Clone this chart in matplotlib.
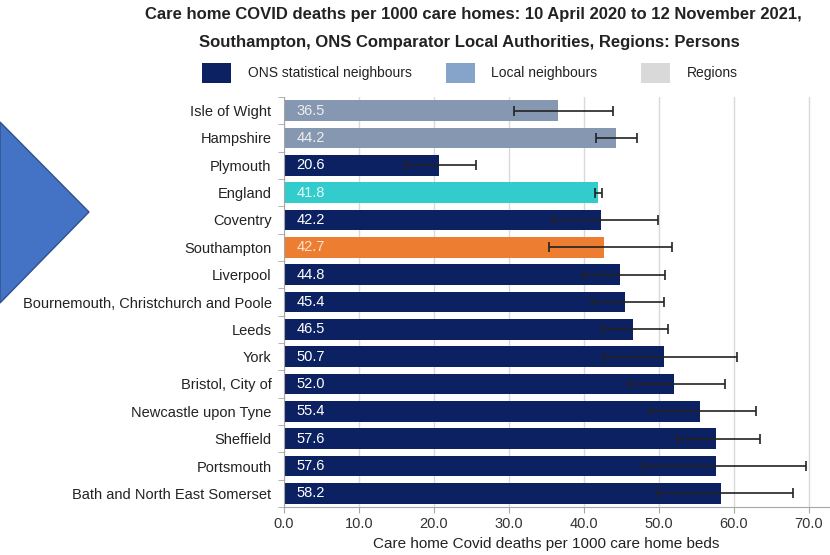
import matplotlib
matplotlib.use('Agg')
import matplotlib.pyplot as plt
from matplotlib.patches import Polygon, Rectangle

# Data (top to bottom)
areas = ['Isle of Wight', 'Hampshire', 'Plymouth', 'England', 'Coventry',
         'Southampton', 'Liverpool', 'Bournemouth, Christchurch and Poole',
         'Leeds', 'York', 'Bristol, City of', 'Newcastle upon Tyne',
         'Sheffield', 'Portsmouth', 'Bath and North East Somerset']
rates = [36.5, 44.2, 20.6, 41.8, 42.2, 42.7, 44.8, 45.4,
         46.5, 50.7, 52.0, 55.4, 57.6, 57.6, 58.2]
lower_ci = [30.6, 41.6, 16.3, 41.5, 35.9, 35.3, 39.8, 41.0,
            42.4, 42.7, 46.0, 48.8, 52.4, 47.8, 49.9]
upper_ci = [43.8, 47.0, 25.6, 42.4, 49.8, 51.7, 50.8, 50.6,
            51.2, 60.4, 58.8, 62.9, 63.5, 69.6, 67.8]
groups = ['local', 'local', 'ons', 'england', 'ons', 'southampton', 'ons', 'ons',
          'ons', 'ons', 'ons', 'ons', 'ons', 'ons', 'ons']
x_ticks = [0, 10, 20, 30, 40, 50, 60, 70]
legend_labels = ['ONS statistical neighbours', 'Local neighbours', 'Regions']

bar_colours = {'ons': '#0c2161', 'local': '#8597b1',
               'england': '#33cccc', 'southampton': '#ed7d31'}
text_colours = {'ons': 'white', 'local': '#eeeeee',
                'england': '#e8f8f8', 'southampton': '#fbe3d2'}
legend_colours = ['#0c2161', '#86a3c9', '#d9d9d9']

plt.rcParams['font.family'] = ['Liberation Sans', 'DejaVu Sans']

fig = plt.figure(figsize=(8.3, 5.55), dpi=100)
ax = fig.add_axes([284 / 830, 48 / 555, 546 / 830, 410 / 555])

ypos = list(range(len(areas)))
colours = [bar_colours[g] for g in groups]
ax.barh(ypos, rates, height=0.75, color=colours, zorder=2)

xerr = [[r - lo for r, lo in zip(rates, lower_ci)],
        [hi - r for r, hi in zip(rates, upper_ci)]]
ax.errorbar(rates, ypos, xerr=xerr, fmt='none', ecolor='#222222',
            elinewidth=1.2, capsize=3.5, capthick=1.2, zorder=3)

for y, v, g in zip(ypos, rates, groups):
    ax.annotate(f'{v:.1f}', xy=(0, y), xytext=(9, 0), textcoords='offset points',
                ha='left', va='center', fontsize=10.5, color=text_colours[g], zorder=4)

ax.set_ylim(len(areas) - 0.5, -0.5)
ax.set_xlim(0, 72.8)
ax.set_yticks(ypos)
ax.set_yticklabels(areas, fontsize=10.5, color='#222222')
ax.set_yticks([y + 0.5 for y in range(-1, len(areas))], minor=True)
ax.tick_params(axis='y', which='major', length=0, pad=9)
ax.tick_params(axis='y', which='minor', length=4, color='#a6a6a6', direction='out')

ax.set_xticks(x_ticks)
ax.set_xticklabels([f'{t:.1f}' for t in x_ticks], fontsize=10.5, color='#333333')
ax.tick_params(axis='x', length=4, color='#a6a6a6', pad=3)
ax.grid(axis='x', color='#d9d9d9', linewidth=1, zorder=0)
ax.set_xlabel('Care home Covid deaths per 1000 care home beds',
              fontsize=11, color='#222222')
ax.xaxis.set_label_coords(0.48, -0.072)

for side in ['top', 'right']:
    ax.spines[side].set_visible(False)
for side in ['left', 'bottom']:
    ax.spines[side].set_color('#a6a6a6')

# Title
fig.text(0.57, 1 - 15 / 555, 'Care home COVID deaths per 1000 care homes: 10 April 2020 to 12 November 2021,',
         ha='center', va='center', fontsize=12, fontweight='bold', color='#222222')
fig.text(0.565, 1 - 42 / 555, 'Southampton, ONS Comparator Local Authorities, Regions: Persons',
         ha='center', va='center', fontsize=12, fontweight='bold', color='#222222')

# Legend drawn by hand to match the layout
legend_sq_x = [202, 446, 641]
legend_txt_x = [248, 491, 687]
for sx, tx, lab, col in zip(legend_sq_x, legend_txt_x, legend_labels, legend_colours):
    fig.patches.append(Rectangle((sx / 830, 1 - 83 / 555), 29 / 830, 20 / 555,
                                 transform=fig.transFigure, facecolor=col, edgecolor='none'))
    fig.text(tx / 830, 1 - 73 / 555, lab, ha='left', va='center', fontsize=10, color='#222222')

# Decorative chevron on the left
chevron = Polygon([(0, 1 - 122 / 555), (89 / 830, 1 - 212 / 555), (0, 1 - 303 / 555)],
                  closed=True, transform=fig.transFigure,
                  facecolor='#4472c4', edgecolor='#2f528f', linewidth=1)
fig.patches.append(chevron)

fig.savefig('out.png', dpi=100)
